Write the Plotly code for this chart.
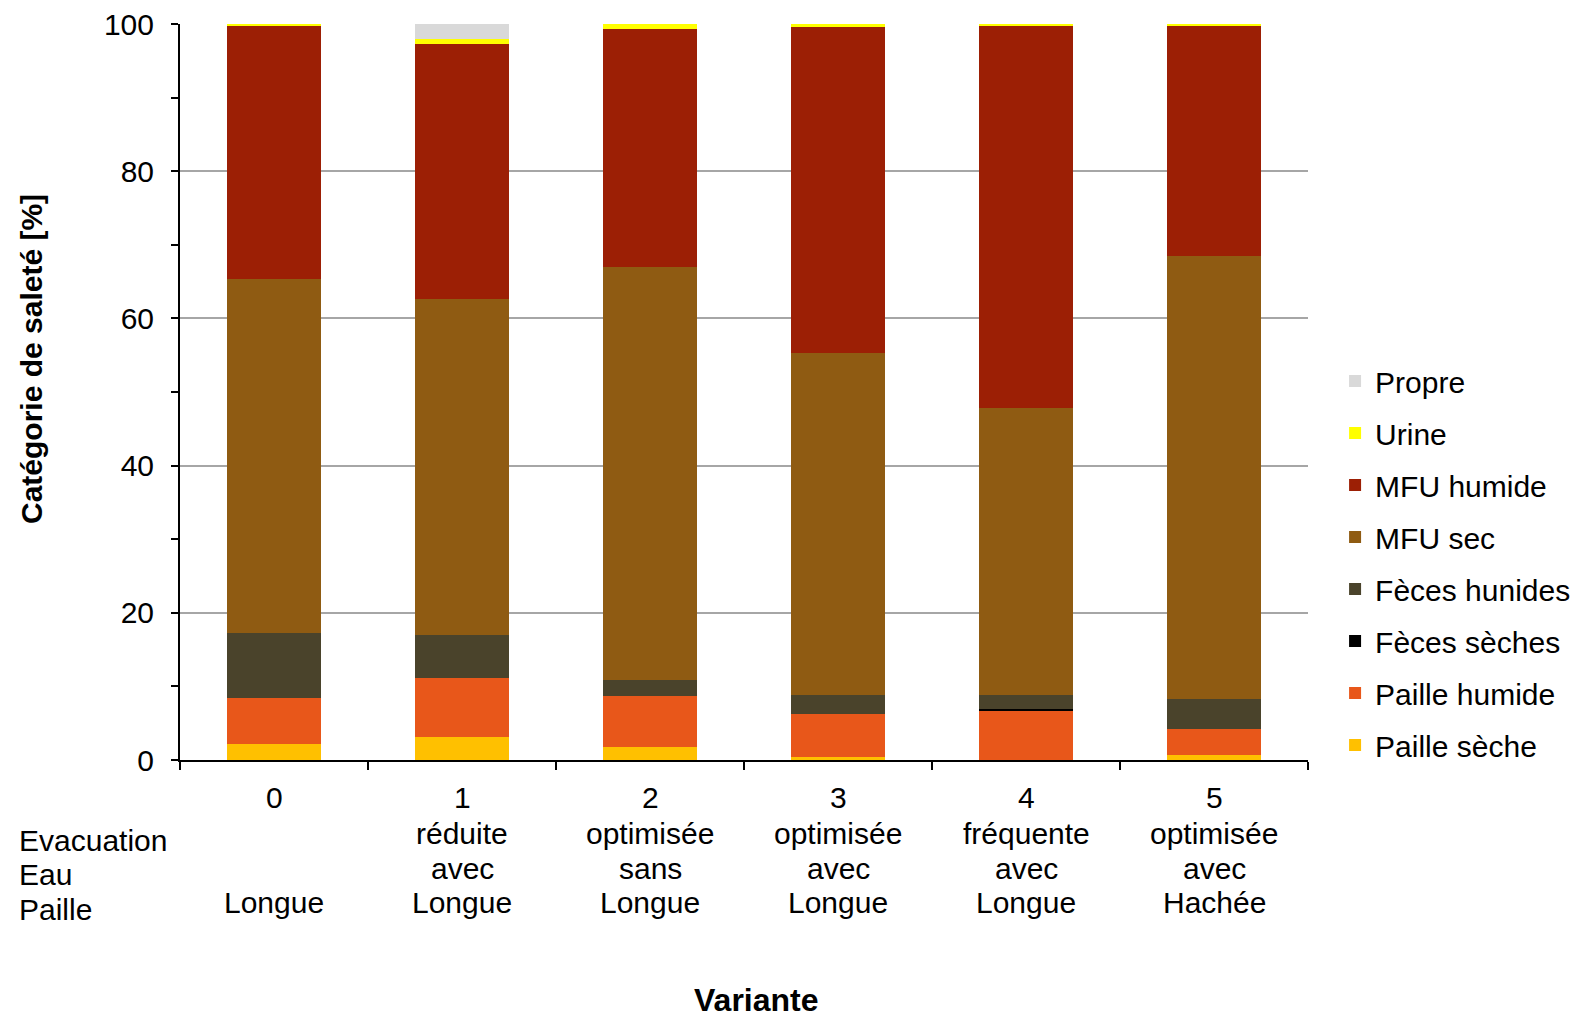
import plotly.graph_objects as go

# Variants and their descriptive rows (Evacuation / Eau / Paille)
variantes = ["0", "1", "2", "3", "4", "5"]
evacuation = ["", "réduite", "optimisée", "optimisée", "fréquente", "optimisée"]
eau = ["", "avec", "sans", "avec", "avec", "avec"]
paille = ["Longue", "Longue", "Longue", "Longue", "Longue", "Hachée"]
row_headers = ["Evacuation", "Eau", "Paille"]

# Share of each soiling category per variant [%], bottom to top of the stack
paille_seche = [2.2, 3.1, 1.8, 0.45, 0.0, 0.64]
paille_humide = [6.2, 8.0, 6.9, 5.75, 6.7, 3.56]
feces_seches = [0.0, 0.0, 0.0, 0.0, 0.2, 0.0]
feces_humides = [8.9, 5.9, 2.2, 2.7, 2.0, 4.1]
mfu_sec = [48.0, 45.6, 56.1, 46.4, 38.9, 60.2]
mfu_humide = [34.4, 34.7, 32.3, 44.3, 52.0, 31.3]
urine = [0.3, 0.7, 0.7, 0.4, 0.2, 0.2]
propre = [0.0, 2.0, 0.0, 0.0, 0.0, 0.0]

series = [
    ("Paille sèche", paille_seche, "#FFC000"),
    ("Paille humide", paille_humide, "#E8571A"),
    ("Fèces sèches", feces_seches, "#000000"),
    ("Fèces hunides", feces_humides, "#4A432B"),
    ("MFU sec", mfu_sec, "#8F5B12"),
    ("MFU humide", mfu_humide, "#9C1F05"),
    ("Urine", urine, "#FFFF00"),
    ("Propre", propre, "#D9D9D9"),
]

FONT = "Liberation Sans, Arial, sans-serif"
FS = 30

# plot area in pixels (used to place the text rows under the axis)
PLOT_TOP, PLOT_BOTTOM = 24, 760
PLOT_H = PLOT_BOTTOM - PLOT_TOP


def ypaper(px):
    return (PLOT_BOTTOM - px) / PLOT_H


fig = go.Figure()
for i, (name, vals, color) in enumerate(series):
    fig.add_trace(go.Bar(
        x=variantes, y=vals, name=name,
        marker=dict(color=color, line=dict(width=0)),
        legendgroup=f"g{i}", legendrank=100 - i,
    ))

fig.update_layout(
    barmode="stack",
    bargap=0.5,
    width=1590, height=1018,
    margin=dict(l=180, r=282, t=PLOT_TOP, b=1018 - PLOT_BOTTOM, autoexpand=False),
    paper_bgcolor="white", plot_bgcolor="white",
    font=dict(family=FONT, size=FS, color="black"),
    showlegend=True,
    legend=dict(
        traceorder="grouped", tracegroupgap=10,
        x=1.024, xanchor="left", y=ypaper(355), yanchor="top",
        font=dict(family=FONT, size=FS, color="black"),
        bgcolor="rgba(0,0,0,0)", borderwidth=0,
    ),
)

fig.update_xaxes(
    type="category", showticklabels=False, automargin=False,
    tickson="boundaries", ticks="outside", ticklen=8, tickwidth=2, tickcolor="black",
    showline=True, linecolor="black", linewidth=2, showgrid=False,
)
fig.update_yaxes(
    range=[0, 100], dtick=20, tick0=0, automargin=False,
    ticks="outside", ticklen=7, tickwidth=2, tickcolor="black", ticklabelstandoff=11,
    minor=dict(dtick=10, ticks="outside", ticklen=7, tickwidth=2, tickcolor="black", showgrid=False),
    showline=True, linecolor="black", linewidth=2,
    showgrid=True, gridcolor="#A6A6A6", gridwidth=2, zeroline=False,
    tickfont=dict(family=FONT, size=FS, color="black"),
)

# Variant number and description rows under each bar
rows = [variantes, evacuation, eau, paille]
row_y = [797, 833.5, 868, 902.5]
for vals, ypx in zip(rows, row_y):
    for cat, txt in zip(variantes, vals):
        if not txt:
            continue
        fig.add_annotation(
            text=txt, xref="x", yref="paper", x=cat, xanchor="center",
            y=ypaper(ypx), yanchor="middle", showarrow=False,
            font=dict(family=FONT, size=FS, color="black"),
        )

# Row headers for the variant descriptions
for label, ypx in zip(row_headers, [840, 874.5, 909]):
    fig.add_annotation(
        text=label, xref="paper", yref="paper",
        x=(17 - 180) / 1128, xanchor="left",
        y=ypaper(ypx), yanchor="middle",
        showarrow=False, font=dict(family=FONT, size=FS, color="black"),
    )

# Axis titles
fig.add_annotation(
    text="<b>Catégorie de saleté [%]</b>", xref="paper", yref="paper",
    x=(31 - 180) / 1128, xanchor="center", y=ypaper(359), yanchor="middle",
    textangle=-90, showarrow=False, font=dict(family=FONT, size=30, color="black"),
)
fig.add_annotation(
    text="<b>Variante</b>", xref="paper", yref="paper",
    x=(756 - 180) / 1128, xanchor="center", y=ypaper(1000), yanchor="middle",
    showarrow=False, font=dict(family=FONT, size=32, color="black"),
)

fig.write_html("out.html")
